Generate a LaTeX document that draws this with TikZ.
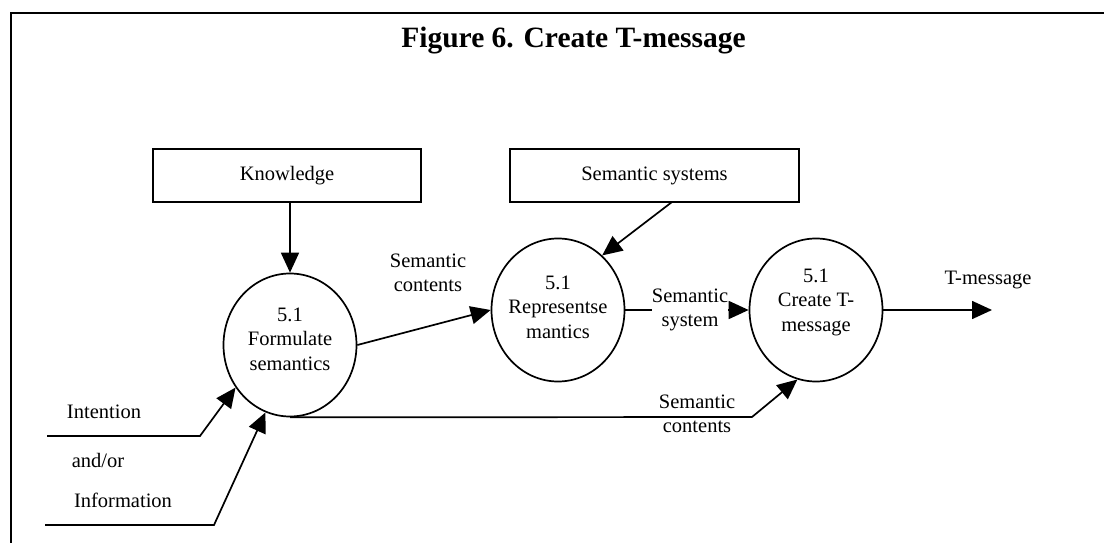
\documentclass[tikz,border=0pt]{standalone}
\usepackage{fontspec}
\setmainfont{Liberation Serif}
\usetikzlibrary{arrows.meta,shapes.geometric}
\tikzset{
  body/.style={font=\fontsize{20.5}{24.5}\selectfont, align=center, inner sep=0pt},
  store/.style={draw, line width=1.7pt, minimum height=53pt, inner sep=0pt, body},
  proc/.style={draw, ellipse, line width=1.7pt, minimum width=133pt, minimum height=143pt, inner sep=0pt},
  flow/.style={line width=1.7pt, -{Triangle[length=20pt,width=18pt]}},
  frame/.style={line width=2.2pt, line join=miter},
}
\begin{document}
\begin{tikzpicture}[x=1pt,y=-1pt]
\useasboundingbox (0,0) rectangle (1104,543);

% outer frame (open to the right and bottom)
\draw[frame] (11,543) -- (11,13) -- (1104,13);

% title
\node[font=\fontsize{29.5}{34}\selectfont\bfseries, anchor=base] (title) at (573.5,48) {Figure 6. Create T-message};

% data stores
\node[store, minimum width=268pt] (know) at (287,175.5) {Knowledge};
\node[store, minimum width=289pt] (semsys) at (654.5,175.5) {Semantic systems};

% processes
\node[proc, label={[body,yshift=6pt]center:{5.1\\Formulate\\semantics}}] (form) at (290,345) {};
\node[proc, label={[body,yshift=3pt]center:{5.1\\Representse\\mantics}}] (repr) at (558,310) {};
\node[proc, label={[body,yshift=8pt]center:{5.1\\Create T-\\message}}] (create) at (816,310) {};

% free ends and bends
\coordinate (out) at (992,310);
\coordinate (ssfoot) at (672,202);
\coordinate (bendc) at (752,417);
\coordinate (intA) at (47,436);
\coordinate (intB) at (200,436);
\coordinate (infA) at (45,525);
\coordinate (infB) at (214,525);

% flows
\draw[flow] (form.north |- know.south) -- (form.north);
\draw[flow] (ssfoot) -- (repr.51);
\draw[flow] (form.east) -- (repr.west);
\draw[flow] (repr.east) -- (create.west);
\draw[flow] (create.east) -- (out);
\draw[flow] (form.south) -- (bendc) -- (create.255);
\draw[flow] (intA) -- (intB) -- (form.218);
\draw[flow] (infA) -- (infB) -- (form.250);

% flow labels
\node[body] (lcont1) at (428,273) {Semantic\\contents};
\node[body, fill=white] (lsys) at (690,310) {Semantic\\system};
\node[body] (lcont2) at (697,414) {Semantic\\contents};
\node[body] (lmsg) at (988,280) {T-message};
\node[body] (lint) at (104,412) {Intention};
\node[body] (land) at (98,460) {and/or};
\node[body] (linf) at (123,500) {Information};
\end{tikzpicture}
\end{document}
